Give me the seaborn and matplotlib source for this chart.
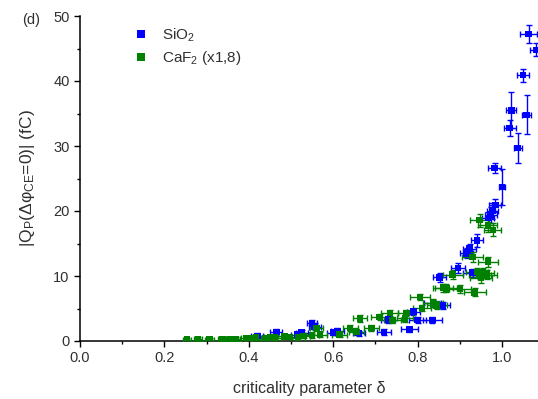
import numpy as np
import pandas as pd
import seaborn as sns
import matplotlib
matplotlib.use("Agg")
import matplotlib.pyplot as plt
from matplotlib.ticker import MultipleLocator

# SiO2 (bleu)
sio2_x = [0.42, 0.465, 0.515, 0.525, 0.55, 0.556, 0.60, 0.61, 0.66, 0.72, 0.73,
          0.78, 0.79, 0.80, 0.835, 0.836, 0.852, 0.86, 0.895, 0.916, 0.923, 0.93,
          0.94, 0.966, 0.973, 0.977, 0.984, 0.982, 1.0, 1.018, 1.022, 1.037,
          1.049, 1.058, 1.063, 1.081]
sio2_y = [0.8, 1.4, 1.0, 1.3, 2.7, 2.2, 1.3, 1.5, 1.2, 1.4, 3.3,
          1.8, 4.5, 3.2, 3.2, 5.8, 9.8, 5.5, 11.2, 13.5, 14.2, 10.5,
          15.5, 18.9, 19.4, 20.0, 20.9, 26.6, 23.7, 32.8, 35.5, 29.7,
          40.9, 34.8, 47.2, 44.8]
sio2_xerr = [0.014, 0.014, 0.014, 0.014, 0.012, 0.014, 0.014, 0.016, 0.014, 0.016, 0.016,
             0.02, 0.016, 0.02, 0.022, 0.02, 0.016, 0.016, 0.016, 0.016, 0.016, 0.022,
             0.014, 0.014, 0.014, 0.014, 0.014, 0.016, 0.008, 0.014, 0.012, 0.01,
             0.014, 0.01, 0.02, 0.014]
sio2_yerr = [0.4, 0.5, 0.4, 0.4, 0.6, 0.5, 0.4, 0.5, 0.4, 0.4, 0.5,
             0.4, 0.5, 0.5, 0.5, 0.5, 0.7, 0.5, 0.8, 0.8, 0.8, 0.6,
             1.0, 1.0, 1.2, 1.2, 1.0, 0.8, 2.7, 1.2, 2.8, 2.3,
             1.0, 3.0, 1.4, 1.0]

# CaF2 (vert), valeurs multipliées par 1,8
caf2_x = [0.253, 0.28, 0.307, 0.337, 0.355, 0.37, 0.393, 0.407, 0.417, 0.438,
          0.45, 0.462, 0.485, 0.497, 0.516, 0.53, 0.55, 0.56, 0.568, 0.615,
          0.64, 0.655, 0.663, 0.69, 0.71, 0.734, 0.74, 0.77, 0.773, 0.805,
          0.81, 0.836, 0.845, 0.86, 0.868, 0.883, 0.9, 0.93, 0.935, 0.94,
          0.947, 0.95, 0.954, 0.963, 0.966, 0.947, 0.966, 0.978]
caf2_y = [0.2, 0.3, 0.2, 0.3, 0.3, 0.3, 0.4, 0.4, 0.5, 0.4,
          0.6, 0.5, 0.7, 0.6, 0.5, 0.8, 0.9, 2.0, 1.0, 1.0,
          2.0, 1.4, 3.5, 2.0, 3.7, 4.3, 3.2, 3.5, 4.3, 6.8,
          5.1, 5.8, 5.5, 8.2, 8.1, 10.2, 8.0, 12.9, 7.5, 10.6,
          10.2, 9.7, 10.5, 10.2, 12.2, 18.6, 17.8, 17.1]
caf2_xerr = [0.01, 0.01, 0.01, 0.01, 0.01, 0.01, 0.012, 0.012, 0.012, 0.014,
             0.014, 0.014, 0.016, 0.016, 0.016, 0.016, 0.016, 0.016, 0.016, 0.018,
             0.018, 0.018, 0.016, 0.018, 0.02, 0.02, 0.02, 0.02, 0.02, 0.024,
             0.022, 0.024, 0.024, 0.024, 0.026, 0.024, 0.026, 0.024, 0.026, 0.026,
             0.026, 0.026, 0.026, 0.026, 0.024, 0.022, 0.022, 0.02]
caf2_yerr = [0.3, 0.3, 0.3, 0.3, 0.3, 0.3, 0.3, 0.3, 0.3, 0.3,
             0.3, 0.3, 0.3, 0.3, 0.3, 0.3, 0.4, 0.4, 0.4, 0.4,
             0.4, 0.4, 0.5, 0.4, 0.5, 0.5, 0.5, 0.5, 0.5, 0.5,
             0.5, 0.6, 0.6, 0.6, 0.6, 0.7, 0.6, 0.8, 0.6, 0.7,
             0.7, 0.7, 0.7, 0.7, 0.8, 1.0, 1.0, 1.0]

lab_sio2 = "SiO$_\\mathregular{2}$"
lab_caf2 = "CaF$_\\mathregular{2}$ (x1,8)"
couleurs = {lab_sio2: "#0000ff", lab_caf2: "#008000"}

df = pd.DataFrame({
    "x": sio2_x + caf2_x,
    "y": sio2_y + caf2_y,
    "serie": [lab_sio2] * len(sio2_x) + [lab_caf2] * len(caf2_x),
})

sns.set_style("ticks")
plt.rcParams["font.family"] = ["Liberation Sans", "DejaVu Sans"]
plt.rcParams["mathtext.fontset"] = "custom"
plt.rcParams["mathtext.rm"] = "Liberation Sans"
plt.rcParams["mathtext.it"] = "Liberation Sans"
gris = "#303030"

fig = plt.figure(figsize=(5.38, 3.99), dpi=100)
ax = fig.add_axes([80 / 538, 58 / 399, 1 - 80 / 538, (341 - 16) / 399])

ax.errorbar(sio2_x, sio2_y, xerr=sio2_xerr, yerr=sio2_yerr, fmt="none",
            ecolor="#0000ff", elinewidth=1.0, capsize=2.5, capthick=1.0, zorder=2)
ax.errorbar(caf2_x, caf2_y, xerr=caf2_xerr, yerr=caf2_yerr, fmt="none",
            ecolor="#008000", elinewidth=1.0, capsize=2.5, capthick=1.0, zorder=3)
sns.scatterplot(data=df, x="x", y="y", hue="serie", palette=couleurs, marker="s",
                s=22, linewidth=0, ax=ax, zorder=4)

ax.set_xlim(0, 1.085)
ax.set_ylim(0, 50)
ax.xaxis.set_minor_locator(MultipleLocator(0.1))
ax.yaxis.set_major_locator(MultipleLocator(10))
ax.yaxis.set_minor_locator(MultipleLocator(5))
ax.set_xticks(np.arange(0, 1.01, 0.2))
ax.set_xticklabels(["0.0", "0.2", "0.4", "0.6", "0.8", "1.0"])
ax.tick_params(which="major", direction="out", length=4, width=1, labelsize=10.5,
               labelcolor=gris, color="black")
ax.tick_params(which="minor", direction="out", length=2.5, width=1, color="black")
sns.despine(ax=ax)
for s in ["left", "bottom"]:
    ax.spines[s].set_linewidth(1.1)
    ax.spines[s].set_color("black")

ax.set_xlabel("criticality parameter δ", fontsize=11.5, color=gris, labelpad=11)
ax.set_ylabel("|Q$_\\mathregular{P}$(Δφ$_\\mathregular{CE}$=0)| (fC)", fontsize=12.5,
              color=gris, labelpad=12)
fig.text(22 / 538, 1 - 20 / 399, "(d)", fontsize=10.5, color=gris, va="center")

leg = ax.legend(loc="upper left", bbox_to_anchor=(0.07, 1.01), frameon=False,
                fontsize=11, handletextpad=0.4, labelspacing=0.35, markerscale=1.2,
                borderaxespad=0.5)
for t in leg.get_texts():
    t.set_color(gris)

fig.savefig("out.png", dpi=100)
